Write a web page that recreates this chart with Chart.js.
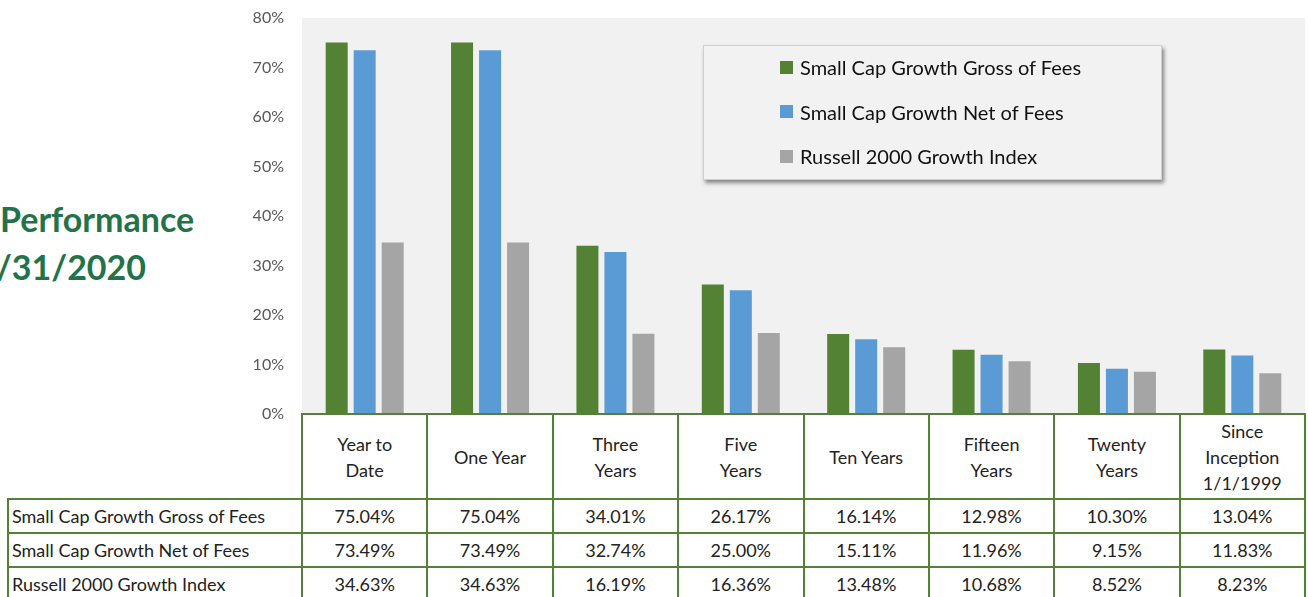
<!DOCTYPE html>
<html>
<head>
<meta charset="utf-8">
<script src="https://cdn.jsdelivr.net/npm/chart.js@4.4.1/dist/chart.umd.min.js"></script>
<style>
  html, body { margin:0; padding:0; background:#fff; }
  body { width:1308px; height:597px; position:relative; overflow:hidden; font-family: Lato, "Open Sans", sans-serif; }
  #wrap { position:absolute; left:0; top:0; width:1306px; height:432px; }
  .title { position:absolute; color:#23724a; font-weight:bold; font-size:34px; white-space:nowrap; font-family: Lato, sans-serif; }
  #legend { position:absolute; left:703px; top:45px; width:459px; height:135px; background:#f2f2f2; box-shadow:2px 3px 4px rgba(0,0,0,0.45); border:1px solid #cfcfcf; box-sizing:border-box; }
  .litem { position:absolute; left:76px; height:24px; display:flex; align-items:center; font-size:20px; color:#111; white-space:nowrap; }
  .lsw { width:13px; height:13px; margin-right:7px; }
  .cell { position:absolute; border:2px solid #548235; box-sizing:border-box; display:flex; align-items:center; justify-content:center; text-align:center; font-size:18px; color:#222; line-height:26px; background:#fff; }
  .lab { justify-content:flex-start; padding-left:3px; }
</style>
</head>
<body>
<div class="title" style="left:0px; top:198px;">Performance</div>
<div class="title" style="left:-4px; top:246px;">/31/2020</div>
<div id="wrap"><canvas id="c" width="1306" height="432"></canvas></div>
<div id="legend"></div>
<div id="table"></div>
<script>
const categories = [["Year to","Date"], ["One Year"], ["Three","Years"], ["Five","Years"], ["Ten Years"], ["Fifteen","Years"], ["Twenty","Years"], ["Since","Inception","1/1/1999"]];
const seriesNames = ["Small Cap Growth Gross of Fees", "Small Cap Growth Net of Fees", "Russell 2000 Growth Index"];
const grossOfFees = [75.04, 75.04, 34.01, 26.17, 16.14, 12.98, 10.30, 13.04];
const netOfFees   = [73.49, 73.49, 32.74, 25.00, 15.11, 11.96, 9.15, 11.83];
const russell2000 = [34.63, 34.63, 16.19, 16.36, 13.48, 10.68, 8.52, 8.23];
const yTicks = [0, 10, 20, 30, 40, 50, 60, 70, 80];
const seriesColors = ["#548235", "#5b9bd5", "#a5a5a5"];
const seriesValues = [grossOfFees, netOfFees, russell2000];

const plotBg = {
  id: 'plotBg',
  beforeDraw(chart) {
    const {ctx, chartArea: a} = chart;
    ctx.save();
    ctx.fillStyle = '#f1f1f1';
    ctx.fillRect(a.left, a.top, a.right - a.left, a.bottom - a.top);
    ctx.restore();
  }
};

const chart = new Chart(document.getElementById('c'), {
  type: 'bar',
  data: {
    labels: categories.map(c => c.join(' ')),
    datasets: seriesNames.map((n, i) => ({
      label: n,
      data: seriesValues[i],
      backgroundColor: seriesColors[i],
      borderWidth: 0,
      categoryPercentage: 0.67,
      barPercentage: 0.786
    }))
  },
  options: {
    responsive: false,
    animation: false,
    layout: { padding: { top: 18, right: 1, bottom: 18, left: 0 } },
    plugins: { legend: { display: false }, tooltip: { enabled: false } },
    scales: {
      x: { display: false },
      y: {
        min: yTicks[0], max: yTicks[yTicks.length - 1],
        afterBuildTicks(scale) { scale.ticks = yTicks.map(v => ({ value: v })); },
        afterFit(scale) { scale.width = 302; scale.paddingTop = 0; scale.paddingBottom = 0; },
        grid: { display: false, drawTicks: false },
        border: { display: false },
        ticks: {
          padding: 18,
          color: '#595959',
          font: { family: 'Lato', size: 16 },
          callback: v => v + '%'
        }
      }
    }
  },
  plugins: [plotBg]
});

// Legend
const legend = document.getElementById('legend');
seriesNames.forEach((n, i) => {
  const d = document.createElement('div');
  d.className = 'litem';
  d.style.top = (9 + i * 44.5) + 'px';
  d.innerHTML = '<span class="lsw" style="background:' + seriesColors[i] + '"></span><span>' + n + '</span>';
  legend.appendChild(d);
});

// Data table
const table = document.getElementById('table');
const colX = i => 302 + i * (1003 / 8);
const rowY = [414, 499, 533, 566.5, 602];
function cell(x0, x1, y0, y1, html, cls) {
  const d = document.createElement('div');
  d.className = 'cell' + (cls ? ' ' + cls : '');
  d.style.left = (x0 - 1) + 'px';
  d.style.top = (y0 - 1) + 'px';
  d.style.width = (x1 - x0 + 2) + 'px';
  d.style.height = (y1 - y0 + 2) + 'px';
  d.innerHTML = html;
  table.appendChild(d);
}
categories.forEach((c, i) => cell(colX(i), colX(i + 1), rowY[0], rowY[1], c.join('<br>')));
seriesNames.forEach((n, r) => {
  cell(8, colX(0), rowY[r + 1], rowY[r + 2], n, 'lab');
  seriesValues[r].forEach((v, i) => cell(colX(i), colX(i + 1), rowY[r + 1], rowY[r + 2], v.toFixed(2) + '%'));
});
</script>
</body>
</html>
